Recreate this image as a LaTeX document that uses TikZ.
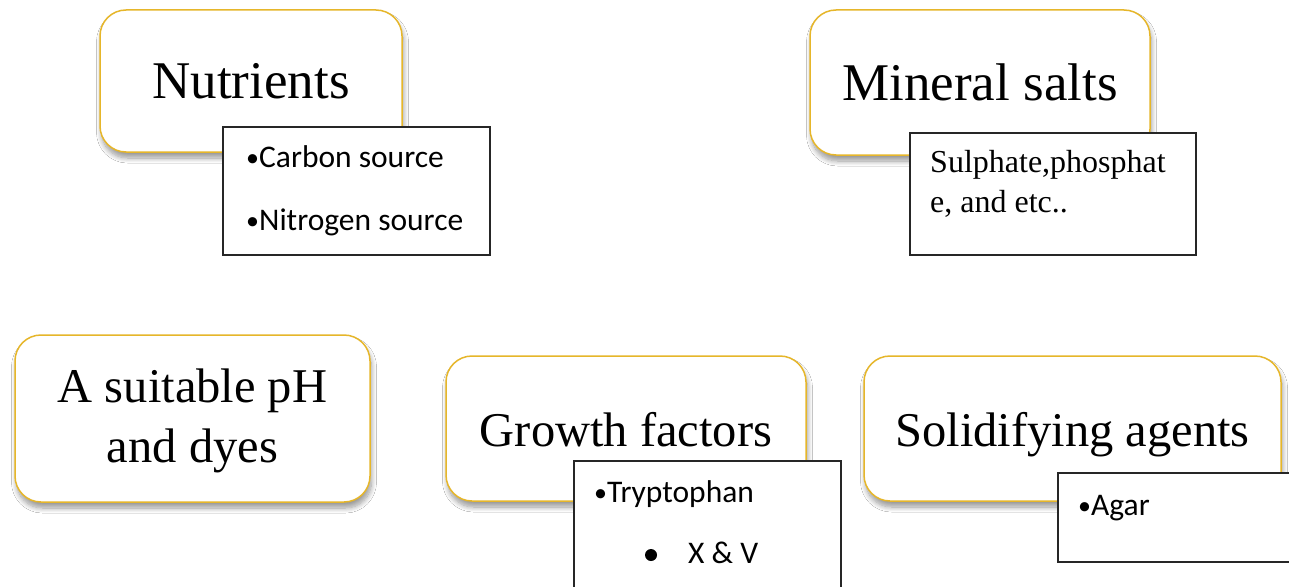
\documentclass[tikz,border=0pt]{standalone}
\usepackage{fontspec}
\setmainfont{Liberation Serif}
\newfontfamily\calib{Carlito}
\usetikzlibrary{shadows.blur}
\definecolor{gold}{HTML}{E6B62A}
\newcommand{\smbul}{{\fontsize{26}{26}\selectfont\raisebox{1pt}{•}}}
\begin{document}
\begin{tikzpicture}[x=1pt,y=-1pt,
 mainbox/.style={draw=gold, line width=1.5pt, rounded corners=26pt, fill=white,
   blur shadow={shadow xshift=1.5pt, shadow yshift=-6pt, shadow blur steps=10, shadow blur radius=5pt, shadow opacity=40},
   inner sep=0pt},
 subbox/.style={draw=black!85, line width=1.4pt, fill=white, inner sep=0pt},
 maintxt/.style={font=\fontsize{53}{60}\selectfont, inner sep=0pt, anchor=base},
 lowtxt/.style={font=\fontsize{48.5}{56}\selectfont, inner sep=0pt, anchor=base},
 subtxt/.style={font=\calib\fontsize{31.5}{36}\selectfont, inner sep=0pt, anchor=base west},
 serifsub/.style={font=\fontsize{32}{36}\selectfont, inner sep=0pt, anchor=base west},
 ]
\useasboundingbox (0,0) rectangle (1289,586);
\clip (0,0) rectangle (1289,586);
\fill[white] (0,0) rectangle (1289,586);

% Nutrients
\node[mainbox, minimum width=302pt, minimum height=142pt] (nut) at (251,81) {};
\node[maintxt] (nutT) at (251,98) {Nutrients};
\node[subbox, minimum width=267pt, minimum height=128pt] (nutS) at (356.5,191) {};
\node[subtxt] (nutA) at (246,167) {\smbul Carbon source};
\node[subtxt] (nutB) at (246,230) {\smbul Nitrogen source};

% Mineral salts
\node[mainbox, minimum width=340pt, minimum height=145pt] (min) at (980,82.5) {};
\node[maintxt] (minT) at (980,100) {Mineral salts};
\node[subbox, minimum width=286pt, minimum height=122pt] (minS) at (1053,194) {};
\node[serifsub] (minA) at (930,172) {Sulphate,phosphat};
\node[serifsub] (minB) at (930,212) {e, and etc..};

% pH and dyes
\node[mainbox, minimum width=355pt, minimum height=167pt] (ph) at (192.5,418.5) {};
\node[lowtxt] (phA) at (192.5,402) {A suitable pH};
\node[lowtxt] (phB) at (192.5,462) {and dyes};

% Growth factors
\node[mainbox, minimum width=360pt, minimum height=145pt] (gro) at (626,428.5) {};
\node[lowtxt] (groT) at (626,446) {Growth factors};
\node[subbox, minimum width=267pt, minimum height=160pt] (groS) at (707.5,541) {};
\node[subtxt] (groA) at (594,502) {\smbul Tryptophan};
\node[circle, fill=black, minimum size=12pt, inner sep=0pt] (groD) at (651,555) {};
\node[subtxt] (groB) at (688,563) {X \& V};

% Solidifying agents
\node[mainbox, minimum width=417pt, minimum height=145pt] (sol) at (1072.5,428.5) {};
\node[lowtxt] (solT) at (1072.5,446) {Solidifying agents};
\node[subbox, minimum width=250pt, minimum height=89pt] (solS) at (1183,517.5) {};
\node[subtxt] (solA) at (1078,515) {\smbul Agar};
\end{tikzpicture}
\end{document}
